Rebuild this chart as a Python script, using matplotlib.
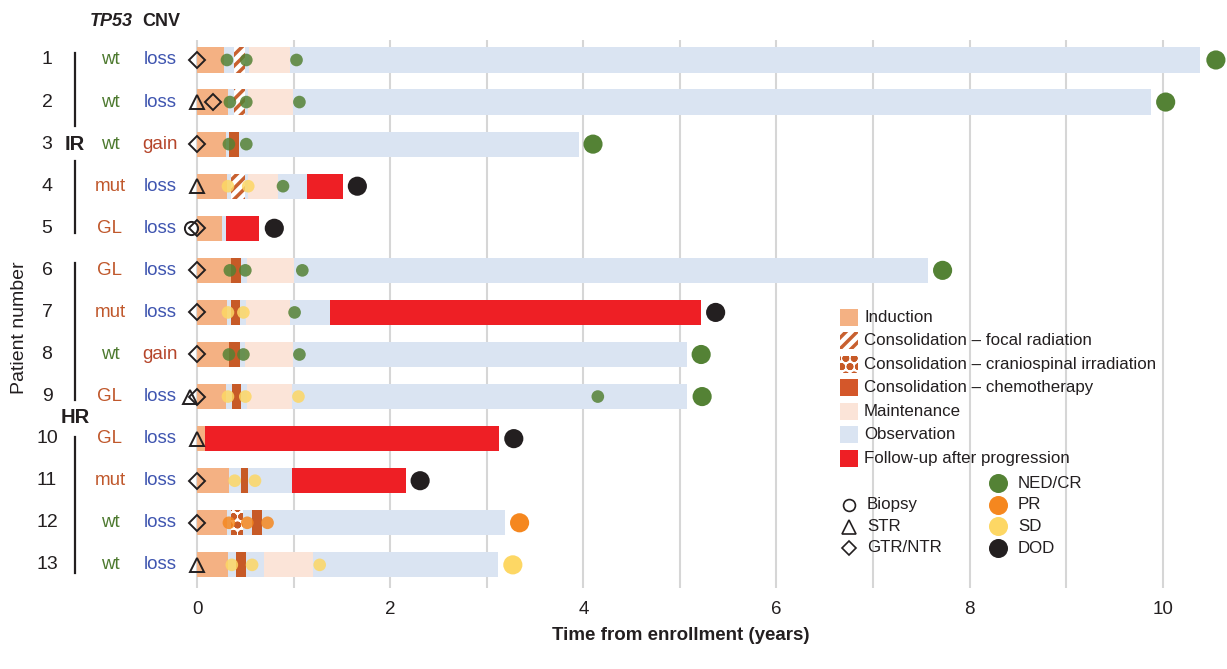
import matplotlib.pyplot as plt
import matplotlib.transforms as mtransforms
from matplotlib.patches import Rectangle
from matplotlib.lines import Line2D

plt.rcParams['font.family'] = ['Liberation Sans', 'DejaVu Sans']
plt.rcParams['hatch.linewidth'] = 2.5

# --- data -------------------------------------------------------------
patients = list(range(1, 14))
tp53 = ['wt', 'wt', 'wt', 'mut', 'GL', 'GL', 'mut', 'wt', 'GL', 'GL', 'mut', 'wt', 'wt']
cnv = ['loss', 'loss', 'gain', 'loss', 'loss', 'loss', 'loss', 'gain', 'loss', 'loss', 'loss', 'loss', 'loss']

induction_end = [0.28, 0.32, 0.30, 0.31, 0.26, 0.35, 0.31, 0.33, 0.30, 0.08, 0.33, 0.31, 0.32]
observation_end = [10.39, 9.88, 3.96, 1.14, 0.30, 7.57, 1.38, 5.07, 5.07, 0.08, 0.98, 3.19, 3.12]

# (patient, start, end) in years
focal_radiation = [(1, 0.38, 0.50), (2, 0.38, 0.50), (4, 0.35, 0.50)]
craniospinal = [(12, 0.35, 0.48)]
chemotherapy = [(3, 0.33, 0.43), (6, 0.35, 0.45), (7, 0.35, 0.44), (8, 0.33, 0.44),
                (9, 0.36, 0.45), (11, 0.45, 0.53), (12, 0.57, 0.67), (13, 0.40, 0.51)]
maintenance = [(1, 0.54, 0.96), (2, 0.53, 0.99), (4, 0.53, 0.84), (6, 0.52, 1.00),
               (7, 0.51, 0.96), (8, 0.50, 0.99), (9, 0.52, 0.98), (13, 0.69, 1.20)]
progression = [(4, 1.14, 1.51), (5, 0.30, 0.64), (7, 1.38, 5.22), (10, 0.08, 3.13), (11, 0.98, 2.16)]

# surgery at diagnosis
surgery_patient = [1, 2, 2, 3, 4, 5, 5, 6, 7, 8, 9, 9, 10, 11, 12, 13]
surgery_time = [0, 0, 0.17, 0, 0, -0.066, 0, 0, 0, 0, -0.073, 0, 0, 0, 0, 0]
surgery_type = ['GTR/NTR', 'STR', 'GTR/NTR', 'GTR/NTR', 'STR', 'Biopsy', 'GTR/NTR', 'GTR/NTR',
                'GTR/NTR', 'GTR/NTR', 'STR', 'GTR/NTR', 'STR', 'GTR/NTR', 'GTR/NTR', 'STR']

# response assessments during therapy
resp_patient = [1, 1, 1, 2, 2, 2, 3, 3, 4, 4, 4, 6, 6, 6, 7, 7, 7, 8, 8, 8,
                9, 9, 9, 9, 11, 11, 12, 12, 12, 13, 13, 13]
resp_time = [0.31, 0.51, 1.03, 0.34, 0.51, 1.06, 0.33, 0.51, 0.32, 0.53, 0.89,
             0.34, 0.50, 1.09, 0.32, 0.48, 1.01, 0.33, 0.48, 1.06,
             0.32, 0.50, 1.05, 4.15, 0.39, 0.60, 0.33, 0.52, 0.73, 0.36, 0.57, 1.27]
resp_status = ['NED/CR'] * 8 + ['SD', 'SD', 'NED/CR'] + ['NED/CR'] * 3 + ['SD', 'SD', 'NED/CR'] \
    + ['NED/CR'] * 3 + ['SD', 'SD', 'SD', 'NED/CR'] + ['SD', 'SD'] + ['PR'] * 3 + ['SD'] * 3

# last follow-up
outcome_time = [10.55, 10.03, 4.10, 1.66, 0.80, 7.72, 5.37, 5.22, 5.23, 3.28, 2.31, 3.34, 3.27]
outcome_status = ['NED/CR', 'NED/CR', 'NED/CR', 'DOD', 'DOD', 'NED/CR', 'DOD', 'NED/CR',
                  'NED/CR', 'DOD', 'DOD', 'PR', 'SD']

# --- styles -----------------------------------------------------------
DARK = '#231F20'
C_IND = '#F4B183'
C_RAD = '#C8602F'
C_CHEMO = '#C75A27'
C_MAINT = '#FBE4D8'
C_OBS = '#DAE4F2'
C_PROG = '#EE1F25'
status_color = {'NED/CR': '#548235', 'PR': '#F5871F', 'SD': '#FDD764', 'DOD': DARK}
surgery_marker = {'Biopsy': ('o', 9.5), 'STR': ('^', 10.5), 'GTR/NTR': ('D', 8.3)}
tp53_color = {'wt': '#4E7A30', 'mut': '#C0582C', 'GL': '#C0582C'}
cnv_color = {'loss': '#3F55B0', 'gain': '#B5452A'}

W, H = 1227, 669
BAR_H = 0.6


def fx(px):
    return px / W


def fy(py):
    return 1 - py / H


fig = plt.figure(figsize=(W / 100, H / 100), dpi=100)
ax = fig.add_axes([fx(172.9), fy(588), 1 - fx(172.9), (588 - 40) / H])
ax.set_xlim(-0.25, 10.665)
ax.set_ylim(13.55, 0.525)

for t in range(11):
    ax.axvline(t, color='#D6D6D6', lw=1.5, zorder=0)


def draw_segments(segs, **kw):
    ys = [s[0] for s in segs]
    lefts = [s[1] for s in segs]
    widths = [s[2] - s[1] for s in segs]
    ax.barh(ys, widths, left=lefts, height=BAR_H, linewidth=0, **kw)


ax.barh(patients, [o - i for o, i in zip(observation_end, induction_end)], left=induction_end,
        height=BAR_H, color=C_OBS, linewidth=0, zorder=1)
ax.barh(patients, induction_end, left=0, height=BAR_H, color=C_IND, linewidth=0, zorder=2)
draw_segments(maintenance, color=C_MAINT, zorder=2)
draw_segments(chemotherapy, color=C_CHEMO, zorder=2)
draw_segments(focal_radiation, facecolor='white', edgecolor=C_RAD, hatch='///', zorder=2)
draw_segments(craniospinal, facecolor='white', edgecolor=C_CHEMO, hatch='oo', zorder=2)
draw_segments(progression, color=C_PROG, zorder=2)

# response dots inside the bars, outcome dot at the end
ax.scatter(resp_time, resp_patient, s=83, c=[status_color[s] for s in resp_status],
           alpha=0.85, linewidths=0, zorder=4)
ax.scatter(outcome_time, patients, s=190, c=[status_color[s] for s in outcome_status],
           linewidths=0, zorder=4, clip_on=False)

for p, t, kind in zip(surgery_patient, surgery_time, surgery_type):
    m, ms = surgery_marker[kind]
    ax.plot(t, p, marker=m, ms=ms, mfc='none', mec=DARK, mew=1.4, zorder=5, clip_on=False)

ax.set_xticks(range(0, 11, 2))
ax.set_yticks([])
ax.tick_params(axis='x', length=0, pad=9, labelsize=13.5, colors=DARK)
for s in ax.spines.values():
    s.set_visible(False)

fig.text(fx(681), fy(636), 'Time from enrollment (years)', ha='center', va='center',
         fontsize=13.5, fontweight='bold', color=DARK)
fig.text(fx(20), fy(328), 'Patient number', ha='center', va='center', rotation=90,
         fontsize=14, color=DARK)

# left-hand annotation columns
trans = mtransforms.blended_transform_factory(fig.transFigure, ax.transData)
fig.text(fx(111), fy(22), 'TP53', style='italic', fontweight='bold', ha='center', va='center',
         fontsize=13, color=DARK)
fig.text(fx(161), fy(22), 'CNV', fontweight='bold', ha='center', va='center',
         fontsize=13, color=DARK)
for p, mut, cn in zip(patients, tp53, cnv):
    ax.text(fx(47), p, str(p), transform=trans, ha='center', va='center', fontsize=14,
            color=DARK, clip_on=False)
    ax.text(fx(110), p, mut, transform=trans, ha='center', va='center', fontsize=13.5,
            color=tp53_color[mut], clip_on=False)
    ax.text(fx(160), p, cn, transform=trans, ha='center', va='center', fontsize=13.5,
            color=cnv_color[cn], clip_on=False)

for y0, y1 in [(0.83, 2.57), (3.4, 5.12), (5.83, 9.07), (9.95, 13.2)]:
    ax.plot([fx(75), fx(75)], [y0, y1], transform=trans, color=DARK, lw=1.6, clip_on=False)
ax.text(fx(75), 3, 'IR', transform=trans, ha='center', va='center', fontsize=14.5,
        fontweight='bold', color=DARK, clip_on=False)
ax.text(fx(75), 9.5, 'HR', transform=trans, ha='center', va='center', fontsize=14.5,
        fontweight='bold', color=DARK, clip_on=False)

# legend
phase_legend = [
    ('Induction', dict(facecolor=C_IND)),
    ('Consolidation \u2013 focal radiation', dict(facecolor='white', edgecolor=C_RAD, hatch='///')),
    ('Consolidation \u2013 craniospinal irradiation', dict(facecolor='white', edgecolor=C_CHEMO, hatch='oo')),
    ('Consolidation \u2013 chemotherapy', dict(facecolor='#D4572A')),
    ('Maintenance', dict(facecolor=C_MAINT)),
    ('Observation', dict(facecolor=C_OBS)),
    ('Follow-up after progression', dict(facecolor=C_PROG)),
]
for k, (label, style) in enumerate(phase_legend):
    yc = 317 + k * 23.5
    fig.add_artist(Rectangle((fx(840), fy(yc + 8.5)), 18 / W, 17 / H, transform=fig.transFigure,
                             linewidth=0, **style))
    fig.text(fx(864), fy(yc), label, ha='left', va='center', fontsize=12.2, color=DARK)

for k, kind in enumerate(['Biopsy', 'STR', 'GTR/NTR']):
    yc = 505 + k * 21.5
    m, ms = surgery_marker[kind]
    fig.add_artist(Line2D([fx(849)], [fy(yc)], marker=m, ms=ms * 0.9, mfc='none', mec=DARK,
                          mew=1.2, transform=fig.transFigure))
    fig.text(fx(867), fy(yc), kind, ha='left', va='center', fontsize=12.2, color=DARK)

for k, st in enumerate(['NED/CR', 'PR', 'SD', 'DOD']):
    yc = 483 + k * 21.7
    fig.add_artist(Line2D([fx(998)], [fy(yc)], marker='o', ms=13.7, mfc=status_color[st],
                          mec='none', transform=fig.transFigure))
    fig.text(fx(1018), fy(yc), st, ha='left', va='center', fontsize=12.2, color=DARK)

fig.savefig('out.png', dpi=100)
